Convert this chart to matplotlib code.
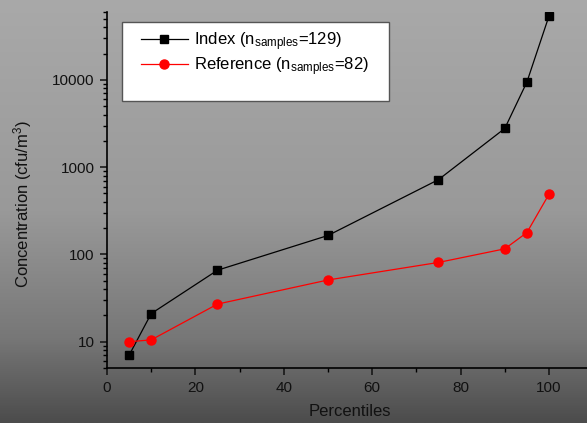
import numpy as np
import matplotlib
matplotlib.use("Agg")
import matplotlib.pyplot as plt
from matplotlib.lines import Line2D
from matplotlib.patches import Rectangle
from matplotlib.colors import LinearSegmentedColormap

plt.rcParams['font.family'] = ['Liberation Sans', 'DejaVu Sans']
plt.rcParams['mathtext.fontset'] = 'custom'
plt.rcParams['mathtext.rm'] = 'Liberation Sans'
plt.rcParams['mathtext.it'] = 'Liberation Sans'

percentiles = [5, 10, 25, 50, 75, 90, 95, 100]
index_conc = [7, 21, 66, 165, 720, 2780, 9450, 54000]
reference_conc = [10, 10.5, 27, 51, 81, 116, 178, 490]

index_label = r'Index (n$_{\mathrm{samples}}$=129)'
reference_label = r'Reference (n$_{\mathrm{samples}}$=82)'

fig = plt.figure(figsize=(5.87, 4.23), dpi=100)

# grey gradient background
bg = fig.add_axes([0, 0, 1, 1], zorder=-10)
cmap = LinearSegmentedColormap.from_list(
    'bg', [(0.0, '#a9a9a9'), (0.5, '#999999'), (0.8, '#777777'), (1.0, '#4c4c4c')])
grad = np.linspace(0, 1, 256).reshape(-1, 1)
bg.imshow(grad, aspect='auto', cmap=cmap, extent=[0, 1, 1, 0])
bg.axis('off')

ax = fig.add_axes([107 / 587, 55 / 423, 480 / 587, 356 / 423])
ax.patch.set_alpha(0)

ax.plot(percentiles, index_conc, '-s', color='black', lw=0.9, markersize=5.5)
ax.plot(percentiles, reference_conc, '-o', color='red', lw=0.9, markersize=6.5)

ax.set_yscale('log')
ax.set_ylim(5, 60000)
ax.set_xlim(0, 108.6)
ax.set_xticks([0, 20, 40, 60, 80, 100])
ax.set_xticks([10, 30, 50, 70, 90], minor=True)
ax.set_yticks([10, 100, 1000, 10000])
ax.set_yticklabels(['10', '100', '1000', '10000'])

for s in ['top', 'right']:
    ax.spines[s].set_visible(False)
for s in ['left', 'bottom']:
    ax.spines[s].set_linewidth(1.2)
ax.tick_params(which='major', length=5, width=1.1, labelsize=11,
               colors='#111111', pad=4)
ax.tick_params(which='minor', length=3, width=1.0)
ax.tick_params(axis='x', pad=4)

ax.set_xlabel('Percentiles', fontsize=12, color='#111111')
ax.xaxis.set_label_coords(0.506, -0.101)
ax.set_ylabel('Concentration (cfu/m$^3$)', fontsize=12, color='#111111')
ax.yaxis.set_label_coords(-0.152, 0.46)

# legend box drawn by hand, entries placed inside it
ax.add_patch(Rectangle((15 / 480, 267 / 356), 267 / 480, 79 / 356,
                       transform=ax.transAxes, facecolor='white',
                       edgecolor='#555555', lw=1.0, zorder=5, clip_on=False))
handles = [Line2D([], [], color='black', marker='s', lw=0.9, markersize=5.5),
           Line2D([], [], color='red', marker='o', lw=0.9, markersize=6.5)]
leg = ax.legend(handles, [index_label, reference_label],
                loc='upper left', bbox_to_anchor=(34 / 480, 338 / 356),
                fontsize=12, handlelength=2.8, labelspacing=0.15,
                frameon=False, borderpad=0, handletextpad=0.35, borderaxespad=0)
leg.set_zorder(6)

fig.savefig('out.png', dpi=100)
